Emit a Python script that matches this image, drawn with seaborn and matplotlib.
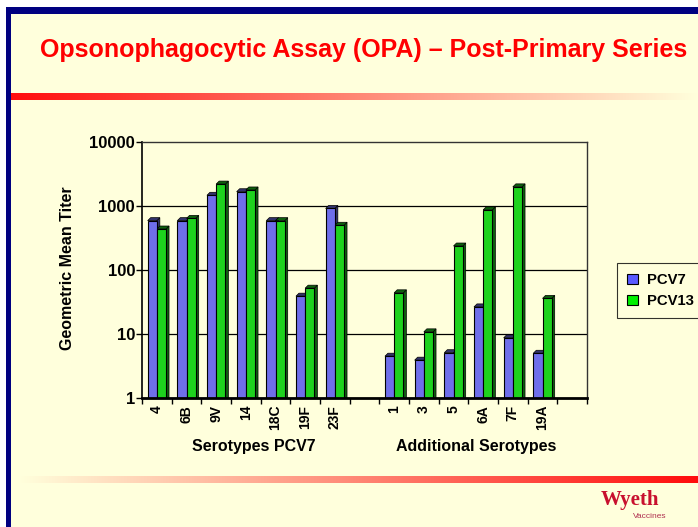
"""
Recreation of the OPA post-primary series slide chart.
"""

import matplotlib
matplotlib.use("Agg")
import matplotlib.pyplot as plt
import numpy as np
import pandas as pd
import seaborn as sns
from matplotlib.patches import Patch, Polygon, Rectangle

# ---- data ----
pcv7_serotypes = ["4", "6B", "9V", "14", "18C", "19F", "23F"]
additional_serotypes = ["1", "3", "5", "6A", "7F", "19A"]
pcv7_titers = [590, 590, 1470, 1670, 590, 39, 915, 4.5, 3.9, 5.1, 26.5, 8.7, 5.0]
pcv13_titers = [437, 640, 2200, 1780, 590, 52, 500, 44, 10.8, 237, 870, 1990, 36]
vaccines = ["PCV7", "PCV13"]
y_ticks = [1, 10, 100, 1000, 10000]
group_labels = ["Serotypes PCV7", "Additional Serotypes"]

BG = "#FFFFDC"
NAVY = "#000080"
BLUE = "#5A5AFF"
GREEN = "#00F000"

serotypes = pcv7_serotypes + additional_serotypes
order = pcv7_serotypes + ["gap1"] + additional_serotypes + ["gap2"]
tick_labels = [s if not s.startswith("gap") else "" for s in order]

df = pd.DataFrame({
    "serotype": serotypes * 2,
    "vaccine": [vaccines[0]] * len(serotypes) + [vaccines[1]] * len(serotypes),
    "titer": pcv7_titers + pcv13_titers,
})

sns.set_theme(style="white")
plt.rcParams["font.family"] = ["Liberation Sans", "DejaVu Sans"]
plt.rcParams["font.weight"] = "bold"
plt.rcParams["text.color"] = "black"
plt.rcParams["xtick.color"] = "black"
plt.rcParams["ytick.color"] = "black"
plt.rcParams["axes.labelcolor"] = "black"

W, H = 698, 527
fig = plt.figure(figsize=(W / 100, H / 100), dpi=100, facecolor="white")

# slide frame: navy border on left/top, pale yellow body
fig.patches.append(Rectangle((6 / W, 0), 1, 1 - 7 / H, transform=fig.transFigure,
                             facecolor=NAVY, edgecolor="none", zorder=-3))
fig.patches.append(Rectangle((11 / W, 0), 1, 1 - 14 / H, transform=fig.transFigure,
                             facecolor=BG, edgecolor="none", zorder=-2))


def gradient_bar(x0, y0, x1, y1, reverse=False):
    gax = fig.add_axes([x0 / W, 1 - y1 / H, (x1 - x0) / W, (y1 - y0) / H])
    ramp = np.linspace(0, 1, 256)
    if reverse:
        ramp = ramp[::-1]
    red = np.array([1.0, 0.05, 0.05])
    pale = np.array([1.0, 1.0, 0.86])
    img = red[None, :] * (1 - ramp[:, None]) + pale[None, :] * ramp[:, None]
    gax.imshow(img[None, :, :], aspect="auto")
    gax.axis("off")


gradient_bar(11, 93, W, 100)
gradient_bar(20, 476, W, 483, reverse=True)

fig.text(364 / W, 1 - 50 / H, "Opsonophagocytic Assay (OPA) \u2013 Post-Primary Series",
         color="#FF0000", fontsize=18, fontweight="bold", ha="center", va="center")

fig.text(630 / W, 1 - 500 / H, "Wyeth", color="#C8102E", fontsize=15,
         fontweight="bold", family="Liberation Serif", ha="center", va="center")
fig.text(650 / W, 1 - 516 / H, "Vaccines", color="#B03050", fontsize=6,
         fontweight="normal", ha="center", va="center")

# ---- chart ----
ax = fig.add_axes([142 / W, 1 - 398 / H, (587 - 142) / W, (398 - 142) / H])
ax.set_facecolor(BG)
sns.barplot(data=df, x="serotype", y="titer", hue="vaccine", order=order,
            hue_order=vaccines, palette=[BLUE, GREEN], width=0.62,
            edgecolor="black", linewidth=0.8, legend=False, ax=ax, zorder=2)
ax.set_yscale("log")
ax.set_ylim(y_ticks[0], y_ticks[-1])
ax.set_xlim(-0.5, len(order) - 0.5)

ax.set_yticks(y_ticks)
ax.set_yticklabels([str(v) for v in y_ticks], fontsize=12, fontweight="bold")
ax.minorticks_off()
ax.tick_params(axis="y", length=4, width=1, color="black", direction="out", left=True, pad=1)

ax.set_xticks(range(len(order)))
ax.set_xticklabels(tick_labels, rotation=90, fontsize=10, fontweight="bold")
ax.set_xticks(np.arange(-0.5, len(order)), minor=True)
ax.tick_params(axis="x", which="major", length=0, pad=5)
ax.tick_params(axis="x", which="minor", length=4, width=1, color="black",
               direction="out", bottom=True)

for v in y_ticks[1:-1]:
    ax.axhline(v, color="black", lw=0.9, zorder=0.5)

for side in ["top", "right"]:
    ax.spines[side].set_color("#333333")
    ax.spines[side].set_linewidth(1)
ax.spines["left"].set_color("black")
ax.spines["left"].set_linewidth(1.2)
ax.spines["bottom"].set_color("black")
ax.spines["bottom"].set_linewidth(2)

ax.set_xlabel("")
ax.set_ylabel("")

# 3D-ish top and side faces for each bar
dx, dy = 3, 3
inv = ax.transData.inverted()
for bar in list(ax.patches):
    h = bar.get_height()
    if not np.isfinite(h) or h <= 0:
        continue
    x0, w = bar.get_x(), bar.get_width()
    fc = np.array(bar.get_facecolor()[:3]) * 0.45
    px0, ptop = ax.transData.transform((x0, h))
    px1, pbot = ax.transData.transform((x0 + w, y_ticks[0]))
    side = inv.transform([(px1, pbot), (px1, ptop), (px1 + dx, ptop + dy), (px1 + dx, pbot)])
    top = inv.transform([(px0, ptop), (px1, ptop), (px1 + dx, ptop + dy), (px0 + dx, ptop + dy)])
    for pts in (side, top):
        ax.add_patch(Polygon(pts, closed=True, facecolor=fc, edgecolor="black",
                             linewidth=0.5, zorder=1.5))

fig.text(67 / W, 1 - 268 / H, "Geometric Mean Titer", rotation=90, fontsize=11.5,
         fontweight="bold", ha="center", va="center")

group_pos = [3.27, 10.76]
for label, xpos in zip(group_labels, group_pos):
    ax.text(xpos, -0.19, label, transform=ax.get_xaxis_transform(), fontsize=11.5,
            fontweight="bold", ha="center", va="center")

handles = [Patch(facecolor=c, edgecolor="black", linewidth=0.8) for c in [BLUE, GREEN]]
leg = fig.legend(handles, vaccines, loc="upper left", bbox_to_anchor=(617 / W, 1 - 263 / H),
                 frameon=True, fancybox=False, facecolor=BG, edgecolor="black",
                 prop={"weight": "bold", "size": 10.7}, handlelength=0.7, handleheight=0.7,
                 handletextpad=0.6, borderpad=0.7, labelspacing=0.45, borderaxespad=0)
leg.get_frame().set_linewidth(0.8)

fig.savefig("out.png", dpi=100, facecolor=fig.get_facecolor())
